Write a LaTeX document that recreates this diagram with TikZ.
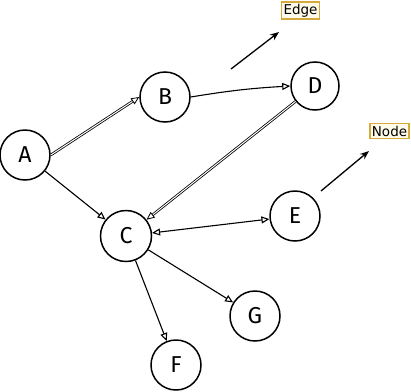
\documentclass[tikz,border=0pt]{standalone}
\usepackage{fontspec}
\setmainfont{DejaVu Sans}
\newfontfamily\handfont{Fira Sans}
\usetikzlibrary{arrows.meta}
\definecolor{lblborder}{HTML}{D6A93C}
\definecolor{lblfill}{HTML}{FFFBEA}
\begin{document}
\begin{tikzpicture}[x=1pt,y=-1pt,
  vert/.style={circle, draw=black, line width=1.5pt, minimum size=50pt, inner sep=0pt, font=\handfont\fontsize{23}{23}\selectfont},
  conn/.style={draw=black, line width=1.1pt, -{Triangle[open,length=8pt,width=7pt]}},
  lbl/.style={draw=lblborder, fill=lblfill, line width=1.4pt, inner sep=2pt, font=\fontsize{13.5}{15}\selectfont},
  free/.style={draw=black, line width=1.3pt, -{Stealth[length=9pt,width=7pt]}}]
\useasboundingbox (0,0) rectangle (411,391);
\node[vert] (A) at (25,155) {A};
\node[vert] (B) at (165,97) {B};
\node[vert, minimum size=51pt] (C) at (126,236) {C};
\node[vert, minimum size=48pt] (D) at (315,86) {D};
\node[vert] (E) at (295,216) {E};
\node[vert] (G) at (255,316) {G};
\node[vert] (F) at (176,365) {F};
\node[lbl] (edgelbl) at (300.5,10.5) {Edge};
\node[lbl] (nodelbl) at (389.5,131) {Node};
\coordinate (e1) at (231,69);
\coordinate (e2) at (279,32);
\coordinate (n1) at (321,191);
\coordinate (n2) at (369,151);
\draw[free] (e1) -- (e2);
\draw[free] (n1) -- (n2);
\draw[conn, double distance=1pt, line width=0.8pt] (A.east) -- (B.west);
\draw[conn] (A) -- (C);
\draw[conn] (B.east) to[bend left=3] (D.west);
\draw[conn, double distance=1pt, line width=0.8pt] (D) -- (C);
\draw[conn, {Triangle[open,length=8pt,width=7pt]}-{Triangle[open,length=8pt,width=7pt]}] (C) -- (E);
\draw[conn] (C) -- (G);
\draw[conn] (C) -- (F);
\end{tikzpicture}
\end{document}
